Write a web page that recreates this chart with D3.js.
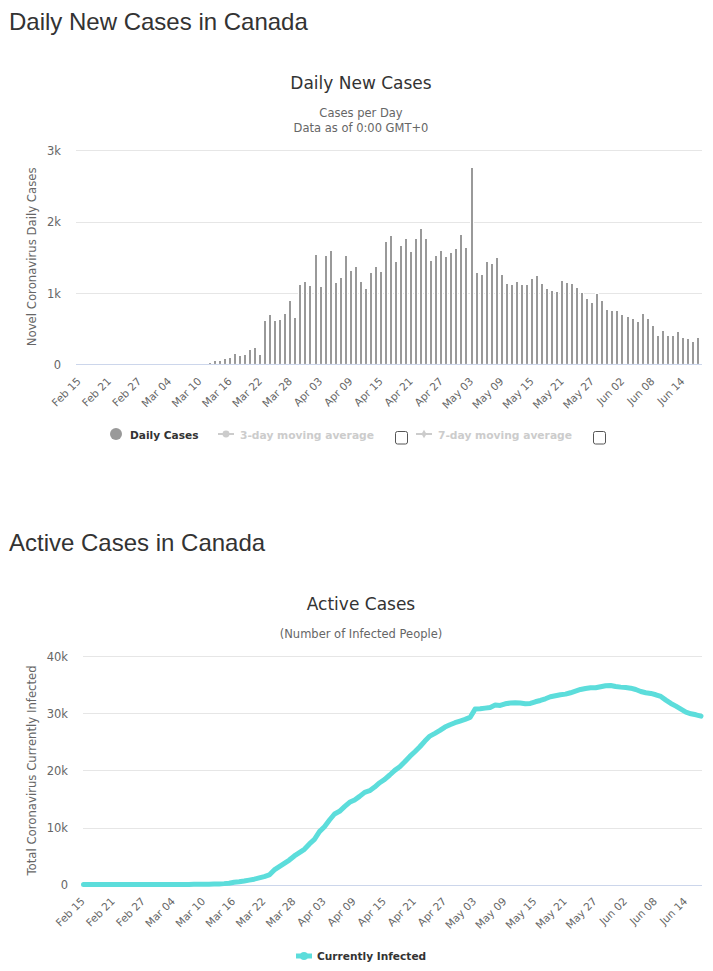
<!DOCTYPE html>
<html>
<head>
<meta charset="utf-8">
<script src="https://cdn.jsdelivr.net/npm/d3@7"></script>
<style>
  html, body { margin: 0; padding: 0; background: #fff; }
  svg { display: block; }
  text { font-family: "DejaVu Sans", sans-serif; }
  .heading { font-family: "Liberation Sans", Arial, sans-serif; font-size: 24px; fill: #333; }
  .title { font-size: 17px; fill: #333; text-anchor: middle; }
  .subtitle { font-size: 11.5px; fill: #666; text-anchor: middle; }
  .tick-label { font-size: 10.6px; fill: #666; }
  .y-label { font-size: 11.5px; fill: #666; text-anchor: end; }
  .y-title { font-size: 11.7px; fill: #666; text-anchor: middle; }
  .grid { stroke: #e6e6e6; stroke-width: 1; }
  .baseline { stroke: #ccd6eb; stroke-width: 1; }
  .legend-on { font-size: 10.6px; font-weight: bold; fill: #333; }
  .legend-off { font-size: 10.7px; font-weight: bold; fill: #ccc; }
</style>
</head>
<body>
<svg id="chart" width="713" height="971"></svg>
<script>
const d3 = window.d3;

const months = [['Feb', 15, 29], ['Mar', 1, 31], ['Apr', 1, 30], ['May', 1, 31], ['Jun', 1, 17]];
const dates = months.flatMap(([m, a, b]) => d3.range(a, b + 1).map((d) => `${m} ${String(d).padStart(2, '0')}`));
const tickDates = dates.filter((_, i) => i % 6 === 0 && i < 121);

const dailyTicks = [0, 1000, 2000, 3000];
const activeTicks = [0, 10000, 20000, 30000, 40000];

const dailyCases = [
  0, 0, 0, 0, 0, 0, 0, 0, 0, 0, 0, 0, 0, 0, 0, 0, 0, 0, 0, 0, 0, 0, 0, 0, 0, 0,
  19, 47, 47, 75, 89, 145, 117, 131, 202, 230, 131, 610, 694, 610, 624, 708, 891, 652,
  1116, 1158, 1102, 1538, 1088, 1524, 1594, 1144, 1214, 1524, 1313, 1369, 1158, 1060,
  1285, 1369, 1299, 1721, 1805, 1439, 1664, 1763, 1580, 1763, 1903, 1763, 1453, 1524,
  1594, 1510, 1566, 1622, 1819, 1636, 2747, 1285, 1257, 1439, 1411, 1496, 1257, 1130,
  1116, 1158, 1116, 1116, 1200, 1242, 1130, 1060, 1031, 1017, 1172, 1144, 1130, 1074,
  1003, 919, 863, 989, 891, 764, 750, 750, 694, 666, 638, 595, 708, 638, 539, 398,
  469, 398, 398, 455, 370, 356, 314, 370
];

const activeCases = [
  7, 7, 7, 8, 8, 8, 8, 9, 9, 10, 10, 12, 14, 16, 18, 20, 22, 24, 28, 30, 32, 36, 40, 50, 60, 75,
  90, 110, 170, 250, 420, 500, 620, 780, 950, 1170, 1400, 1690, 2570, 3150, 3730, 4300, 5020, 5600,
  6180, 7120, 7930, 9280, 10150, 11320, 12370, 12840, 13650, 14410, 14820, 15460, 16160, 16450,
  17090, 17850, 18440, 19200, 20010, 20650, 21530, 22460, 23280, 24150, 25150, 26020, 26490, 27010,
  27600, 28000, 28360, 28650, 28940, 29290, 30750, 30800, 30920, 31040, 31450, 31390, 31680, 31800,
  31850, 31800, 31680, 31740, 32030, 32260, 32560, 32910, 33080, 33260, 33370, 33610, 33900, 34190,
  34360, 34480, 34480, 34660, 34830, 34890, 34710, 34600, 34540, 34420, 34190, 33840, 33610, 33490,
  33260, 32960, 32320, 31740, 31270, 30750, 30220, 29930, 29750, 29520
];

const svg = d3.select('#chart');
const fmtK = (v) => (v === 0 ? '0' : `${v / 1000}k`);

function drawFrame(g, y, ticks, left, right) {
  // Grid first, the bars' white outline has to cut through it.
  g.selectAll('.grid').data(ticks.filter((t) => t > 0)).join('line')
    .attr('class', 'grid')
    .attr('x1', left).attr('x2', right)
    .attr('y1', (t) => Math.round(y(t)) + 0.5).attr('y2', (t) => Math.round(y(t)) + 0.5);
  g.selectAll('.y-label').data(ticks).join('text')
    .attr('class', 'y-label')
    .attr('x', left - 15)
    .attr('y', (t) => y(t) + 4.5)
    .text(fmtK);
}

function drawXLabels(g, x, yPos) {
  g.selectAll('.tick-label').data(tickDates).join('text')
    .attr('class', 'tick-label')
    .attr('text-anchor', 'end')
    .attr('transform', (d) => `translate(${x(d) + 2},${yPos}) rotate(-45)`)
    .text((d) => d);
}

function headings(g, head, title, subs, headY, titleY) {
  g.append('text').attr('class', 'heading').attr('x', 9).attr('y', headY).text(head);
  g.append('text').attr('class', 'title').attr('x', 361).attr('y', titleY).text(title);
  subs.forEach((s, i) => {
    g.append('text').attr('class', 'subtitle').attr('x', 361).attr('y', titleY + 28 + i * 15).text(s);
  });
}

// Daily new cases
{
  const g = svg.append('g');
  const x = d3.scaleBand().domain(dates).range([76, 702]).padding(0.4).align(0.5);
  const y = d3.scaleLinear().domain([0, 3000]).range([364.4, 150.3]);
  headings(g, 'Daily New Cases in Canada', 'Daily New Cases', ['Cases per Day', 'Data as of 0:00 GMT+0'], 30, 89);
  drawFrame(g, y, dailyTicks, 76, 702);
  g.append('g').selectAll('rect').data(dailyCases.map((v, i) => ({ d: dates[i], v })).filter((p) => p.v > 0)).join('rect')
    .attr('x', (p) => Math.round(x(p.d)) - 0.5)
    .attr('y', (p) => Math.round(y(p.v)) - 0.5)
    .attr('width', 3)
    .attr('height', (p) => y(0) - Math.round(y(p.v)) + 0.5)
    .attr('fill', '#999')
    .attr('stroke', '#fff');
  g.append('line').attr('class', 'baseline').attr('x1', 76).attr('x2', 702).attr('y1', 364.5).attr('y2', 364.5);
  const centre = (d) => x(d) + x.bandwidth() / 2;
  drawXLabels(g, centre, 382);
  g.append('text').attr('class', 'y-title')
    .attr('transform', `translate(36,${y(1500) - 0.5}) rotate(-90)`)
    .text('Novel Coronavirus Daily Cases');

  // Legend
  const ly = 435;
  g.append('circle').attr('cx', 116).attr('cy', ly - 1).attr('r', 6).attr('fill', '#999');
  g.append('text').attr('class', 'legend-on').attr('x', 130).attr('y', ly + 3.5).text('Daily Cases');
  [[218, '3-day moving average', 395, d3.symbolCircle, 38], [416, '7-day moving average', 593, d3.symbolDiamond, 22]].forEach(([lx, label, box, shape, size]) => {
    g.append('line').attr('x1', lx).attr('x2', lx + 16).attr('y1', ly - 1).attr('y2', ly - 1).attr('stroke', '#ccc').attr('stroke-width', 2);
    g.append('path').attr('transform', `translate(${lx + 8},${ly - 1})`).attr('d', d3.symbol(shape, size)()).attr('fill', '#ccc');
    g.append('text').attr('class', 'legend-off').attr('x', lx + 22).attr('y', ly + 3.5).text(label);
    g.append('rect').attr('x', box + 0.5).attr('y', ly - 3.5).attr('width', 12).attr('height', 12.5).attr('rx', 2)
      .attr('fill', '#fff').attr('stroke', '#555');
  });
}

// Active cases
{
  const g = svg.append('g');
  const x = d3.scalePoint().domain(dates).range([83.5, 701]);
  const y = d3.scaleLinear().domain([0, 40000]).range([884.6, 656.3]);
  headings(g, 'Active Cases in Canada', 'Active Cases', ['(Number of Infected People)'], 551, 610);
  drawFrame(g, y, activeTicks, 83, 702);
  g.append('line').attr('class', 'baseline').attr('x1', 83).attr('x2', 702).attr('y1', 885.5).attr('y2', 885.5);
  const line = d3.line().x((v, i) => x(dates[i])).y((v) => y(v));
  g.append('path').datum(activeCases)
    .attr('d', line)
    .attr('fill', 'none')
    .attr('stroke', '#5cdddb')
    .attr('stroke-width', 5)
    .attr('stroke-linejoin', 'round')
    .attr('stroke-linecap', 'round');
  drawXLabels(g, x, 902);
  g.append('text').attr('class', 'y-title')
    .attr('transform', `translate(36,${y(20000)}) rotate(-90)`)
    .text('Total Coronavirus Currently Infected');

  const ly = 956;
  g.append('line').attr('x1', 296).attr('x2', 312).attr('y1', ly).attr('y2', ly).attr('stroke', '#5cdddb').attr('stroke-width', 5);
  g.append('circle').attr('cx', 304).attr('cy', ly).attr('r', 4).attr('fill', '#5cdddb');
  g.append('text').attr('class', 'legend-on').attr('x', 317).attr('y', ly + 4).text('Currently Infected');
}
</script>
</body>
</html>
